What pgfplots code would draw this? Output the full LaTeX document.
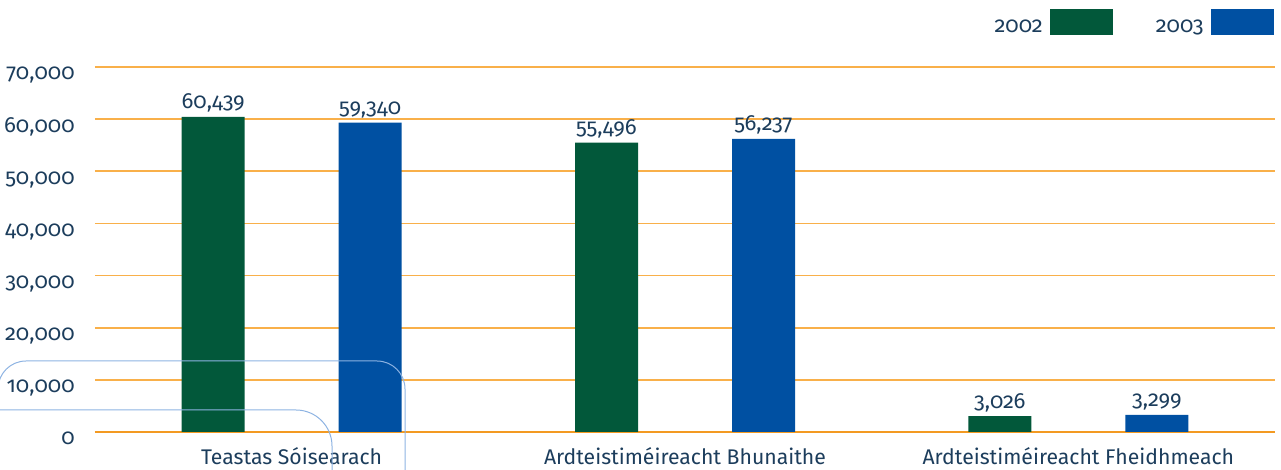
\documentclass[border=0pt]{standalone}
\usepackage{pgfplots}
\pgfplotsset{compat=1.18}
\usepackage{fontspec}
\setmainfont{Fira Sans}[Numbers=OldStyle]
\definecolor{barg}{HTML}{02583A}
\definecolor{barb}{HTML}{0050A2}
\definecolor{gridor}{HTML}{F9B04A}
\definecolor{zeroor}{HTML}{F39A22}
\definecolor{txt}{HTML}{1C3D5C}
\definecolor{deco}{HTML}{8DB3E2}
\begin{document}
\begin{tikzpicture}
\begin{axis}[
  scale only axis, width=590pt, height=182.5pt,
  xmin=-0.5, xmax=2.5, ymin=0, ymax=70000,
  axis x line*=bottom, axis y line*=left,
  x axis line style={draw=zeroor, line width=1pt},
  y axis line style={draw=none},
  tick style={draw=none}, major tick length=0pt,
  ymajorgrids, grid style={draw=gridor, line width=0.9pt},
  ytick={0,10000,...,70000},
  scaled y ticks=false,
  /pgf/number format/.cd, fixed, precision=0, 1000 sep={,}, assume math mode=true, /pgfplots/.cd,
  xtick={0,1,2},
  xticklabels={Teastas Sóisearach,Ardteistiméireacht Bhunaithe,Ardteistiméireacht Fheidhmeach},
  xticklabel style={anchor=base, yshift=-16.5pt, font=\fontsize{10.6}{13}\selectfont, text=txt},
  yticklabel style={anchor=base east, inner sep=0pt, xshift=-10pt, yshift=-6.5pt, font=\fontsize{11}{13}\selectfont, text=txt},
  ybar=47pt, bar width=31.5pt,
  nodes near coords,
  nodes near coords style={anchor=base, inner sep=0pt, yshift=4pt, font=\fontsize{11}{13}\selectfont, text=txt},
  legend plot pos=right,
  legend columns=2,
  legend image code/.code={\fill[#1] (0pt,-4pt) rectangle (31.5pt,9pt);},
  legend style={draw=none, fill=none, at={(1,1)}, anchor=north east, yshift=29pt, xshift=-0.5pt,
    inner sep=0pt, font=\fontsize{11}{13}\selectfont, text=txt,
    nodes={inner sep=0pt},
    /tikz/every odd column/.append style={column sep=3.5pt},
    /tikz/every even column/.append style={column sep=21.5pt}},
]
\addplot[fill=barg, draw=none] coordinates {(0,60439) (1,55496) (2,3026)};
\addlegendentry{2002}
\addplot[fill=barb, draw=none] coordinates {(0,59340) (1,56237) (2,3299)};
\addlegendentry{2003}
\end{axis}
\begin{scope}[x=0.5pt, y=-0.5pt, shift={(-47.5pt,216pt)}]
  \draw[deco, line width=0.5pt, rounded corners=14] (-2,392) -- (-2,361) -- (405,361) -- (405,472);
  \draw[deco, line width=0.5pt, rounded corners=18] (-2,410) -- (332,410) -- (332,472);
\end{scope}
\pgfresetboundingbox
\useasboundingbox (-47.5pt,-19pt) rectangle (593pt,216pt);
\end{tikzpicture}
\end{document}
